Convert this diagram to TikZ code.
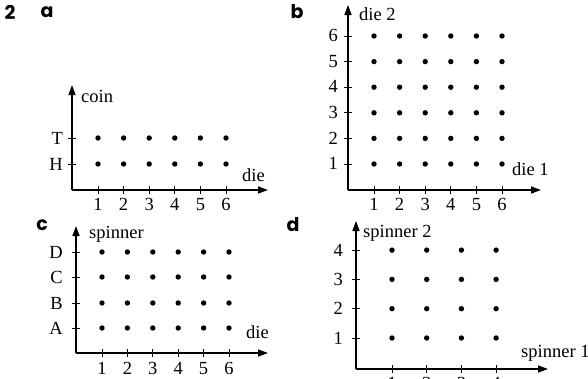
\documentclass[tikz,border=0pt]{standalone}
\usepackage{fontspec}
\setmainfont{Liberation Serif}
\newfontfamily\headfont{Poppins}
\usetikzlibrary{arrows.meta}

\begin{document}
\begin{tikzpicture}[x=1pt, y=-1pt,
    axis/.style={line width=1.4pt, -{Triangle[length=10pt,width=7pt]}},
    tick/.style={line width=0.8pt},
    dot/.style={circle, fill, inner sep=0pt, minimum size=5.4pt},
    lbl/.style={font=\fontsize{18.5}{22}\selectfont, inner sep=0pt},
    part/.style={font=\headfont\bfseries\fontsize{19}{22}\selectfont, inner sep=0pt}]
\useasboundingbox (0,0) rectangle (588,378);

% part labels
\node[part] (q2) at (10,12) {2};
\node[part] (qa) at (47,12) {a};
\node[part] (qb) at (297,12) {b};
\node[part] (qc) at (42,225) {c};
\node[part] (qd) at (293,225) {d};

% a: die and coin
\coordinate (oa) at (72,190);
\coordinate (ya) at (72,85);
\coordinate (xa) at (268,190);
\draw[axis] (oa) -- (ya);
\draw[axis] (oa) -- (xa);
\node[lbl, anchor=base west] (coin) at (81,102) {coin};
\node[lbl, anchor=base west] (diea) at (242,181) {die};
\foreach \r/\yy in {H/164,T/138} {
  \draw[tick] (68,\yy) -- (76,\yy);
  \node[lbl, anchor=base east] (la\r) at (63,\yy+6) {\r};
}
\foreach \i in {1,...,6} {
  \draw[tick] ({72.4+25.6*\i},186) -- ({72.4+25.6*\i},194);
  \node[lbl, anchor=base] (ta\i) at ({72.4+25.6*\i},210.5) {\i};
  \foreach \r/\yy in {H/164,T/138}
    \node[dot] (da\i\r) at ({72.4+25.6*\i},\yy) {};
}

% b: two dice
\coordinate (ob) at (348,190);
\coordinate (yb) at (348,5);
\coordinate (xb) at (541,190);
\draw[axis] (ob) -- (yb);
\draw[axis] (ob) -- (xb);
\node[lbl, anchor=base west] (die2) at (359,20) {die 2};
\node[lbl, anchor=base west] (die1) at (512,175) {die 1};
\foreach \j in {1,...,6} {
  \draw[tick] (344,{189.6-25.6*\j}) -- (352,{189.6-25.6*\j});
  \node[lbl, anchor=base east] (lb\j) at (338,{195.3-25.6*\j}) {\j};
}
\foreach \i in {1,...,6} {
  \draw[tick] ({348.4+25.6*\i},186) -- ({348.4+25.6*\i},194);
  \node[lbl, anchor=base] (tb\i) at ({348.4+25.6*\i},210.5) {\i};
  \foreach \j in {1,...,6}
    \node[dot] (db\i\j) at ({348.4+25.6*\i},{189.6-25.6*\j}) {};
}

% c: die and spinner
\coordinate (oc) at (76,353);
\coordinate (yc) at (76,226);
\coordinate (xc) at (268,353);
\draw[axis] (oc) -- (yc);
\draw[axis] (oc) -- (xc);
\node[lbl, anchor=base west] (spin) at (89,238) {spinner};
\node[lbl, anchor=base west] (diec) at (246,338) {die};
\foreach \r/\yy in {A/328,B/303,C/277,D/252} {
  \draw[tick] (72,\yy) -- (80,\yy);
  \node[lbl, anchor=base east] (lc\r) at (63,\yy+6) {\r};
}
\foreach \i in {1,...,6} {
  \draw[tick] ({76.6+25.4*\i},349) -- ({76.6+25.4*\i},357);
  \node[lbl, anchor=base] (tc\i) at ({76.6+25.4*\i},374.5) {\i};
  \foreach \r/\yy in {A/328,B/303,C/277,D/252}
    \node[dot] (dc\i\r) at ({76.6+25.4*\i},\yy) {};
}

% d: two spinners
\coordinate (od) at (356,369);
\coordinate (yd) at (356,221);
\coordinate (xd) at (548,369);
\draw[axis] (od) -- (yd);
\draw[axis] (od) -- (xd);
\node[lbl, anchor=base west] (spin2) at (363,237) {spinner 2};
\node[lbl, anchor=base west] (spin1) at (521,357) {spinner 1};
\foreach \j in {1,...,4} {
  \draw[tick] (352,{367.3-29.3*\j}) -- (360,{367.3-29.3*\j});
  \node[lbl, anchor=base east] (ld\j) at (343,{373.3-29.3*\j}) {\j};
}
\foreach \i in {1,...,4} {
  \draw[tick] ({357.3+34.7*\i},365) -- ({357.3+34.7*\i},373);
  \node[lbl, anchor=base] (td\i) at ({357.3+34.7*\i},389.5) {\i};
  \foreach \j in {1,...,4}
    \node[dot] (dd\i\j) at ({357.3+34.7*\i},{367.3-29.3*\j}) {};
}
\end{tikzpicture}
\end{document}
